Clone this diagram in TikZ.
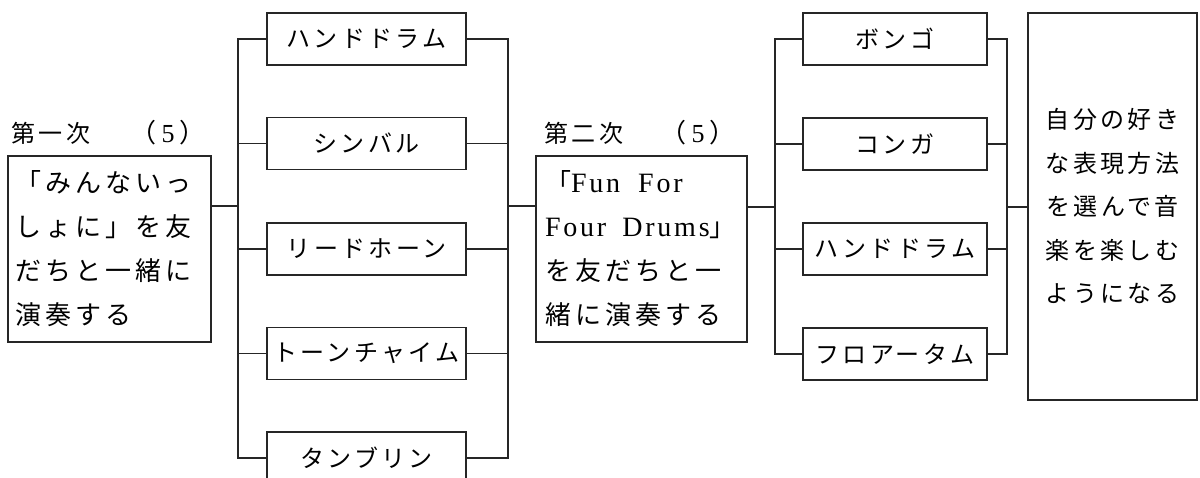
\documentclass[tikz,border=0pt]{standalone}
\usepackage{fontspec}
\setmainfont{Liberation Serif}
\newfontfamily\jp[LetterSpace=14]{Noto Sans CJK JP}
\newfontfamily\jpw[LetterSpace=16]{Noto Sans CJK JP}
\newfontfamily\lat[LetterSpace=10]{Liberation Serif}
\begin{document}
\begin{tikzpicture}[x=1pt,y=-1pt,
  line width=1.1pt, color=black!85,
  box/.style={draw, inner sep=0pt, minimum width=199pt, minimum height=52pt, text=black, font=\fontsize{24}{28}\selectfont\jp},
  rbox/.style={box, minimum width=184pt},
  tall/.style={draw, inner ysep=0pt, align=left, text=black, minimum height=186pt, font=\fontsize{26}{44}\selectfont\jpw},
  lab/.style={inner sep=0pt, text=black, font=\fontsize{24}{28}\selectfont\jp}]
\useasboundingbox (0,0) rectangle (1200,478);

% labels
\node[lab, anchor=west] (t1) at (11,133) {第一次};
\node[lab, font=\fontsize{26}{28}\selectfont\jp] (p1) at (168,133) {（\hspace{5pt}{\lat 5}\hspace{5pt}）};
\node[lab, anchor=west] (t2) at (544,133) {第二次};
\node[lab, font=\fontsize{26}{28}\selectfont\jp] (p2) at (698,133) {（\hspace{5pt}{\lat 5}\hspace{5pt}）};

% left box
\node[tall, text width=189pt, inner xsep=5pt, minimum width=203pt] (L) at (109.5,249)
  {「みんないっ\\しょに」を友\\だちと一緒に\\演奏する};

% middle column
\node[box] (m1) at (366.5,39) {ハンドドラム};
\node[box] (m2) at (366.5,143.5) {シンバル};
\node[box] (m3) at (366.5,249) {リードホーン};
\node[box] (m4) at (366.5,353.5) {トーンチャイム};
\node[box] (m5) at (366.5,458) {タンブリン};

% middle box
\node[tall, text width=193pt, inner xsep=9pt, minimum width=211pt] (M) at (641.5,249)
  {「{\fontsize{28}{44}\selectfont\lat Fun\hspace*{18pt}For}\\{\fontsize{28}{44}\selectfont\lat Four\hspace*{16pt}Drums}」\\を友だちと一\\緒に演奏する};

% right column
\node[rbox] (r1) at (895,39) {ボンゴ};
\node[rbox] (r2) at (895,144) {コンガ};
\node[rbox] (r3) at (895,249) {ハンドドラム};
\node[rbox] (r4) at (895,354) {フロアータム};

% final box
\node[draw, inner sep=0pt, align=center, text=black, minimum width=169pt, minimum height=387pt, font=\fontsize{24}{43.5}\selectfont\jp] (B) at (1112.5,206.5)
  {自分の好き\\な表現方法\\を選んで音\\楽を楽しむ\\ようになる};

% junctions
\coordinate (j1) at (238,206);
\coordinate (j2) at (508,206);
\coordinate (j3) at (775,207);
\coordinate (j4) at (1007,207);

\draw (L.east |- j1) -- (j1);
\draw (m1.west) -| (j1) |- (m5.west);
\draw (m2.west) -- (m2.west -| j1);
\draw (m3.west) -- (m3.west -| j1);
\draw (m4.west) -- (m4.west -| j1);
\draw (m1.east) -| (j2) |- (m5.east);
\draw (m2.east) -- (m2.east -| j2);
\draw (m3.east) -- (m3.east -| j2);
\draw (m4.east) -- (m4.east -| j2);
\draw (j2) -- (M.west |- j2);

\draw (M.east |- j3) -- (j3);
\draw (r1.west) -| (j3) |- (r4.west);
\draw (r2.west) -- (r2.west -| j3);
\draw (r3.west) -- (r3.west -| j3);
\draw (r1.east) -| (j4) |- (r4.east);
\draw (r2.east) -- (r2.east -| j4);
\draw (r3.east) -- (r3.east -| j4);
\draw (j4) -- (B.west |- j4);
\end{tikzpicture}
\end{document}
